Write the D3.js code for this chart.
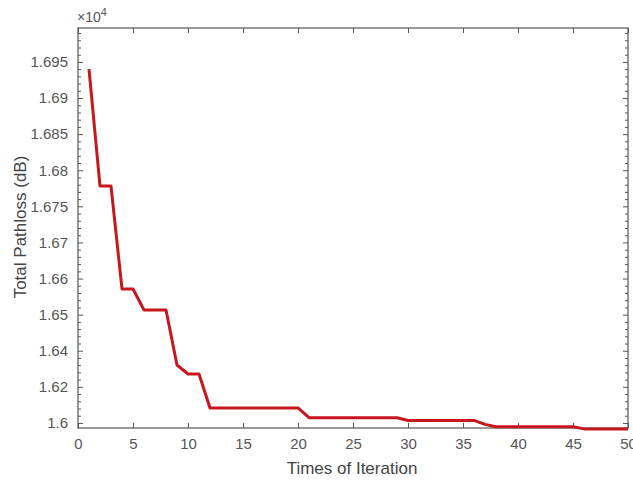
<!DOCTYPE html>
<html>
<head>
<meta charset="utf-8">
<script src="https://cdn.jsdelivr.net/npm/d3@7"></script>
<style>
  html, body { margin: 0; padding: 0; background: #fff; }
  svg { display: block; }
  text { font-family: "Liberation Sans", Arial, sans-serif; }
</style>
</head>
<body>
<svg id="chart" width="633" height="482"></svg>
<script>
// ---- data ----
const iterations = [1,2,3,4,5,6,7,8,9,10,11,12,13,14,15,16,17,18,19,20,
                    21,22,23,24,25,26,27,28,29,30,31,32,33,34,35,36,37,38,39,40,
                    41,42,43,44,45,46,47,48,49,50];
const pathloss = [16940,16778,16778,16571,16571,16513,16513,16513,16321,16271,
                  16271,16083,16083,16083,16083,16083,16083,16083,16083,16083,
                  16029,16029,16029,16029,16029,16029,16029,16029,16029,16014,
                  16014,16014,16014,16014,16014,16014,15992,15979,15979,15979,
                  15979,15979,15979,15979,15979,15967,15967,15967,15967,15967];
const xTickValues = [0,5,10,15,20,25,30,35,40,45,50];
const yTickValues = [16000,16200,16400,16500,16600,16700,16750,16800,16850,16900,16950];
const yTickLabels = ["1.6","1.62","1.64","1.65","1.66","1.67","1.675","1.68","1.685","1.69","1.695"];
const yLimits = [15972, 16997];

// ---- layout ----
const pLeft = 78, pRight = 628, pTop = 28, pBottom = 428;
const axisColor = "#555";
const svg = d3.select("#chart");

const x = d3.scaleLinear().domain([0, 50]).range([pLeft, pRight]);
// tick labels are evenly spaced on the axis: piecewise linear scale
const idx = d3.scaleLinear().domain([-0.14, yTickValues.length - 0.06]).range([pBottom, pTop]);
const yDomain = [yLimits[0], ...yTickValues, yLimits[1]];
const yRange = [idx(-0.14), ...yTickValues.map((d, i) => idx(i)), idx(yTickValues.length - 0.06)];
const y = d3.scaleLinear().domain(yDomain).range(yRange);

// minor ticks (5 subdivisions between labelled ticks)
const minor = [];
for (let i = 0; i < yTickValues.length; i++) {
  const a = yTickValues[i];
  const b = i < yTickValues.length - 1 ? yTickValues[i + 1] : a + (a - yTickValues[i - 1]);
  for (let k = 1; k < 5; k++) {
    const v = a + k * (b - a) / 5;
    if (v < yLimits[1]) minor.push(v);
  }
}

// box
svg.append("rect").attr("x", pLeft).attr("y", pTop)
  .attr("width", pRight - pLeft).attr("height", pBottom - pTop)
  .attr("fill", "none").attr("stroke", axisColor).attr("stroke-width", 1.2);

// bottom axis
const xAxis = d3.axisBottom(x).tickValues(xTickValues).tickSizeInner(-5).tickSizeOuter(0).tickPadding(10);
const gx = svg.append("g").attr("transform", `translate(0,${pBottom})`).call(xAxis);
gx.select(".domain").remove();
gx.selectAll("line").attr("stroke", axisColor);
gx.selectAll("text").attr("fill", "#555").style("font-size", "15px");

// top axis ticks
const gxt = svg.append("g").attr("transform", `translate(0,${pTop})`)
  .call(d3.axisTop(x).tickValues(xTickValues).tickSizeInner(-5).tickSizeOuter(0).tickFormat(""));
gxt.select(".domain").remove();
gxt.selectAll("line").attr("stroke", axisColor);

// left axis
const yAxis = d3.axisLeft(y).tickValues(yTickValues).tickFormat((d, i) => yTickLabels[i])
  .tickSizeInner(-5).tickSizeOuter(0).tickPadding(10);
const gy = svg.append("g").attr("transform", `translate(${pLeft},0)`).call(yAxis);
gy.select(".domain").remove();
gy.selectAll("line").attr("stroke", axisColor);
gy.selectAll("text").attr("fill", "#555").style("font-size", "15px");

const gym = svg.append("g").attr("transform", `translate(${pLeft},0)`)
  .call(d3.axisLeft(y).tickValues(minor).tickSizeInner(-3).tickSizeOuter(0).tickFormat(""));
gym.select(".domain").remove();
gym.selectAll("line").attr("stroke", axisColor);

// right axis ticks
const gyr = svg.append("g").attr("transform", `translate(${pRight},0)`)
  .call(d3.axisRight(y).tickValues(yTickValues).tickSizeInner(-5).tickSizeOuter(0).tickFormat(""));
gyr.select(".domain").remove();
gyr.selectAll("line").attr("stroke", axisColor);
const gyrm = svg.append("g").attr("transform", `translate(${pRight},0)`)
  .call(d3.axisRight(y).tickValues(minor).tickSizeInner(-3).tickSizeOuter(0).tickFormat(""));
gyrm.select(".domain").remove();
gyrm.selectAll("line").attr("stroke", axisColor);

// exponent
const ex = svg.append("text").attr("x", pLeft - 1).attr("y", 22).attr("fill", "#555").style("font-size", "14px");
ex.append("tspan").text("×10");
ex.append("tspan").attr("dy", -6).style("font-size", "11px").text("4");

// line
const line = d3.line().x((d, i) => x(iterations[i])).y(d => y(d));
svg.append("path").datum(pathloss).attr("d", line)
  .attr("fill", "none").attr("stroke", "#c8161d").attr("stroke-width", 3)
  .attr("stroke-linejoin", "round");

// labels
svg.append("text").attr("x", 352).attr("y", 474).attr("text-anchor", "middle")
  .attr("fill", "#444").style("font-size", "17px").text("Times of Iteration");
svg.append("text").attr("transform", "translate(26,227) rotate(-90)").attr("text-anchor", "middle")
  .attr("fill", "#444").style("font-size", "17px").text("Total Pathloss (dB)");
</script>
</body>
</html>
